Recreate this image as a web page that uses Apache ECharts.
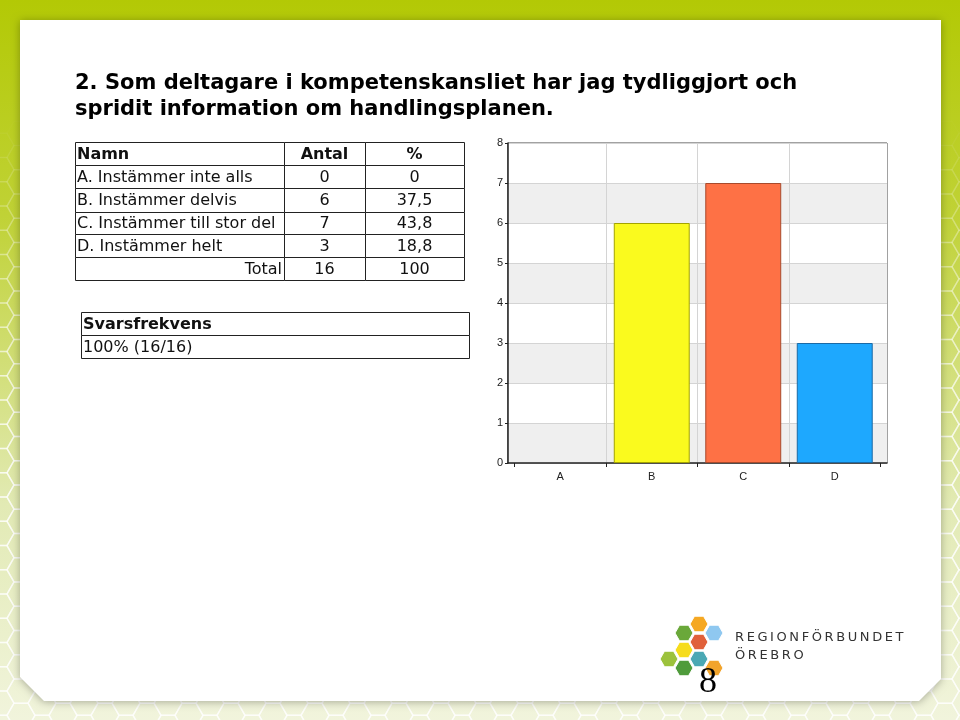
<!DOCTYPE html>
<html>
<head>
<meta charset="utf-8">
<title>Kompetenskansliet fråga 2</title>
<script src="https://cdn.jsdelivr.net/npm/echarts@6/dist/echarts.min.js"></script>
<style>
  html, body { margin: 0; padding: 0; background: #fff; }
  #main { width: 960px; height: 720px; }
</style>
</head>
<body>
<div id="main"></div>
<script>
// data
var kategorier = ['A', 'B', 'C', 'D'];
var svarNamn = ['A. Instämmer inte alls', 'B. Instämmer delvis', 'C. Instämmer till stor del', 'D. Instämmer helt'];
var antal = [0, 6, 7, 3];
var procent = ['0', '37,5', '43,8', '18,8'];
var totalAntal = '16';
var totalProcent = '100';
var yTicks = [0, 1, 2, 3, 4, 5, 6, 7, 8];
var barFarger = ['#ffffff', '#fafa1e', '#fe7145', '#1ea8fe'];
var barKanter = ['#888888', '#a3a300', '#a84a2c', '#1b6aa6'];
var svarsfrekvens = '100% (16/16)';

var myChart = echarts.init(document.getElementById('main'));

function hexPts(cx, cy, r) {
  var p = [];
  for (var i = 0; i < 6; i++) {
    var a = Math.PI / 3 * i;
    p.push([cx + r * Math.cos(a), cy + r * Math.sin(a)]);
  }
  return p;
}

var graphics = [];

// bakgrund
graphics.push({
  type: 'rect', z: -10, silent: true,
  shape: { x: 0, y: 0, width: 960, height: 720 },
  style: {
    fill: new echarts.graphic.LinearGradient(0, 0, 0, 1, [
      { offset: 0, color: '#b3c905' },
      { offset: 0.3, color: '#c0d236' },
      { offset: 0.7, color: '#e2eab4' },
      { offset: 1, color: '#f1f4dc' }
    ])
  }
});
// bikakemönster, svagare upptill
var hr = 14;
for (var col = 0; col < 50; col++) {
  for (var row = 0; row < 32; row++) {
    var cx = col * hr * 1.5;
    var cy = row * hr * Math.sqrt(3) + (col % 2 ? hr * Math.sqrt(3) / 2 : 0);
    var alfa = Math.max(0, Math.min(0.6, (cy - 120) / 600));
    if (alfa <= 0) continue;
    graphics.push({
      type: 'polygon', z: -9, silent: true,
      shape: { points: hexPts(cx, cy, hr) },
      style: { fill: null, stroke: 'rgba(255,255,255,' + alfa.toFixed(2) + ')', lineWidth: 1.5 }
    });
  }
}
// vit yta
graphics.push({
  type: 'polygon', z: -8, silent: true,
  shape: { points: [[20, 20], [941, 20], [941, 679], [919, 701], [44, 701], [20, 677]] },
  style: { fill: '#ffffff', shadowBlur: 8, shadowColor: 'rgba(0,0,0,0.3)', shadowOffsetY: 1 }
});

// rubrik
graphics.push({
  type: 'text', left: 75, top: 71,
  style: {
    text: '2. Som deltagare i kompetenskansliet har jag tydliggjort och\nspridit information om handlingsplanen.',
    font: 'bold 21px "DejaVu Sans", Verdana, sans-serif',
    lineHeight: 26, fill: '#000'
  }
});

// tabell
var colX = [75, 284, 365, 464];
var rowY = [142, 165, 188, 212, 234, 257, 280];
var tabFont = '16px "DejaVu Sans", Verdana, sans-serif';
var tabFontB = 'bold 16px "DejaVu Sans", Verdana, sans-serif';
var rader = [['Namn', 'Antal', '%']];
for (var i = 0; i < svarNamn.length; i++) rader.push([svarNamn[i], String(antal[i]), procent[i]]);
rader.push(['Total', totalAntal, totalProcent]);

rader.forEach(function (r, ri) {
  for (var c = 0; c < 3; c++) {
    var x0 = colX[c], x1 = colX[c + 1], y0 = rowY[ri], y1 = rowY[ri + 1];
    graphics.push({
      type: 'rect', silent: true,
      shape: { x: x0 + 0.5, y: y0 + 0.5, width: x1 - x0, height: y1 - y0 },
      style: { fill: '#fff', stroke: '#222', lineWidth: 1 }
    });
    var tx, align;
    if (c === 0) {
      if (ri === rader.length - 1) { tx = x1 - 2; align = 'right'; }
      else { tx = x0 + 2; align = 'left'; }
    } else { tx = (x0 + x1) / 2; align = 'center'; }
    graphics.push({
      type: 'text', silent: true, z: 10,
      x: tx, y: (y0 + y1) / 2 + 1,
      style: {
        text: r[c], font: ri === 0 ? tabFontB : tabFont, fill: '#111',
        align: align, verticalAlign: 'middle'
      }
    });
  }
});

// svarsfrekvens
var sfRows = [[312, 335, 'Svarsfrekvens', tabFontB], [335, 358, svarsfrekvens, tabFont]];
sfRows.forEach(function (s) {
  graphics.push({
    type: 'rect', silent: true,
    shape: { x: 81.5, y: s[0] + 0.5, width: 388, height: s[1] - s[0] },
    style: { fill: '#fff', stroke: '#222', lineWidth: 1 }
  });
  graphics.push({
    type: 'text', silent: true, z: 10, x: 83, y: (s[0] + s[1]) / 2 + 1,
    style: { text: s[2], font: s[3], fill: '#111', align: 'left', verticalAlign: 'middle' }
  });
});

// logga
var hexar = [
  [699, 624, '#f5a823'], [714, 633, '#8fc8f0'], [684, 633, '#6aa83a'],
  [699, 642, '#e0603a'], [684, 650, '#f6dc1c'], [699, 659, '#4aa8b4'],
  [669, 659, '#9cc23c'], [684, 668, '#4f9b3b'], [714, 668, '#f2a42c']
];
hexar.forEach(function (h) {
  graphics.push({
    type: 'polygon', silent: true,
    shape: { points: hexPts(h[0], h[1], 9) },
    style: { fill: h[2], stroke: '#fff', lineWidth: 1 }
  });
});
var ts = '\u2009';
graphics.push({
  type: 'text', silent: true, x: 735, y: 638,
  style: {
    text: 'REGIONFÖRBUNDET'.split('').join(ts), font: '13px "DejaVu Sans", sans-serif',
    fill: '#333', verticalAlign: 'middle'
  }
});
graphics.push({
  type: 'text', silent: true, x: 735, y: 656,
  style: {
    text: 'ÖREBRO'.split('').join(ts), font: '13px "DejaVu Sans", sans-serif',
    fill: '#333', verticalAlign: 'middle'
  }
});
graphics.push({
  type: 'text', silent: true, z: 20, x: 708, y: 683,
  style: {
    text: '8', font: '36px "Liberation Serif", serif', fill: '#000',
    align: 'center', verticalAlign: 'middle'
  }
});

var option = {
  animation: false,
  graphic: graphics,
  grid: [
    // ram, band och y-axel
    { left: 508, top: 143, width: 379, height: 320,
      show: true, borderColor: '#444', borderWidth: 1, backgroundColor: 'transparent' },
    // staplar, lite indragna från ramen
    { left: 514.5, top: 143, width: 366, height: 320 }
  ],
  xAxis: [{
    gridIndex: 0, type: 'value', min: 0, max: 1,
    axisLine: { show: true, lineStyle: { color: '#222', width: 1.5 } },
    axisTick: { show: false }, axisLabel: { show: false }, splitLine: { show: false }
  }, {
    gridIndex: 1,
    type: 'category',
    data: kategorier,
    axisLine: { show: false },
    axisTick: { show: true, length: 4, lineStyle: { color: '#222' } },
    axisLabel: { color: '#222', fontSize: 11, fontFamily: 'Liberation Sans, Arial', margin: 8 },
    splitLine: { show: true, showMinLine: false, showMaxLine: false, lineStyle: { color: '#d4d4d4' } }
  }],
  yAxis: [{
    gridIndex: 0,
    type: 'value',
    min: yTicks[0], max: yTicks[yTicks.length - 1], interval: 1,
    axisLine: { show: true, lineStyle: { color: '#222', width: 1.5 } },
    axisTick: { show: true, length: 3, lineStyle: { color: '#222' } },
    axisLabel: { color: '#222', fontSize: 11, fontFamily: 'Liberation Sans, Arial', margin: 5 },
    splitLine: { show: true, lineStyle: { color: '#d4d4d4' } },
    splitArea: { show: true, areaStyle: { color: ['#efefef', '#ffffff'] } }
  }, {
    gridIndex: 1, type: 'value',
    min: yTicks[0], max: yTicks[yTicks.length - 1], interval: 1,
    show: false
  }],
  series: [{
    type: 'bar',
    xAxisIndex: 1, yAxisIndex: 1,
    barWidth: '83%',
    data: antal.map(function (v, i) {
      return {
        value: v,
        itemStyle: { color: barFarger[i], borderColor: barKanter[i], borderWidth: v > 0 ? 1 : 0 }
      };
    })
  }]
};

myChart.setOption(option);
</script>
</body>
</html>
